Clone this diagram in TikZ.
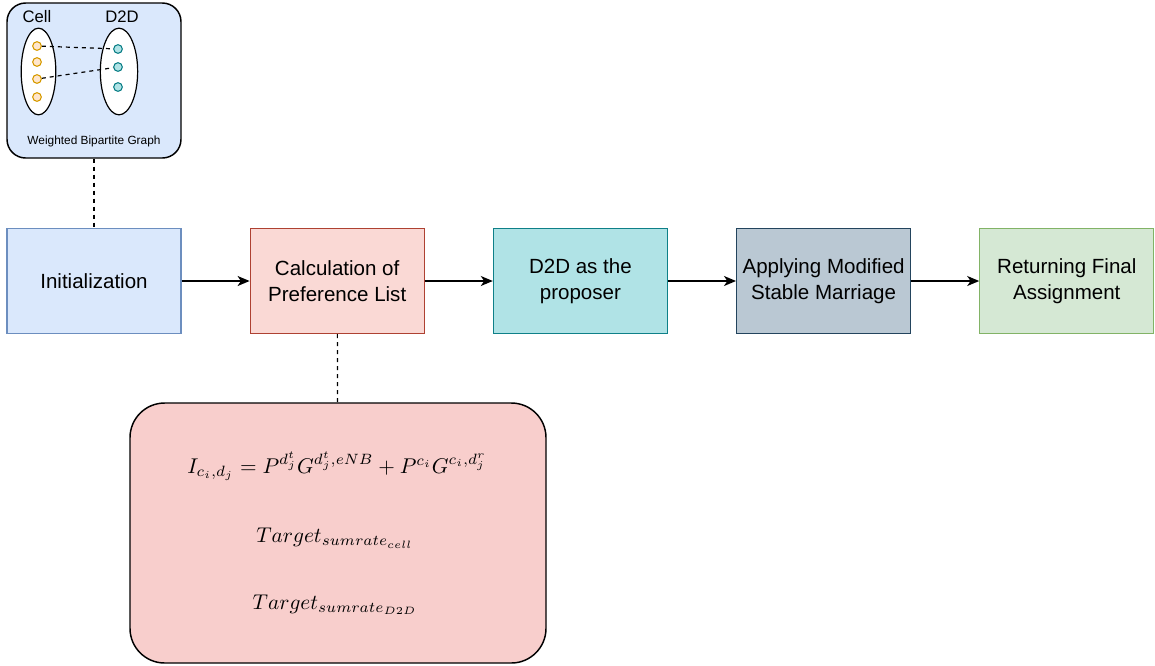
\documentclass[tikz,border=0pt]{standalone}
\usepackage{amsmath}
\usepackage{graphicx}
\usepackage{fontspec}
\setmainfont{Liberation Sans}
\usetikzlibrary{positioning,shapes.geometric,arrows.meta}

\definecolor{initFill}{HTML}{DAE8FC}
\definecolor{initLine}{HTML}{6C8EBF}
\definecolor{calcFill}{HTML}{FAD9D5}
\definecolor{calcLine}{HTML}{AE4132}
\definecolor{propFill}{HTML}{B0E3E6}
\definecolor{propLine}{HTML}{0E8088}
\definecolor{smFill}{HTML}{BAC8D3}
\definecolor{smLine}{HTML}{23445D}
\definecolor{retFill}{HTML}{D5E8D4}
\definecolor{retLine}{HTML}{82B366}
\definecolor{eqFill}{HTML}{F8CECC}
\definecolor{cellFill}{HTML}{FFE6CC}
\definecolor{cellLine}{HTML}{D79B00}

\newcommand{\bigmath}[1]{\scalebox{1.6}{$#1$}}

\begin{document}
\begin{tikzpicture}[x=0.75pt,y=-0.75pt,node distance=51pt,>={Stealth[length=9pt,width=7.5pt,inset=2.5pt]},
    stage/.style={draw, rectangle, minimum width=130.5pt, minimum height=78.75pt,
      align=center, line width=0.9pt, font=\fontsize{15.4}{19.5}\selectfont},
    cellpt/.style={draw=cellLine, fill=cellFill, circle, minimum size=6.5pt, inner sep=0pt, line width=0.8pt},
    d2dpt/.style={draw=propLine, fill=propFill, circle, minimum size=6.5pt, inner sep=0pt, line width=0.8pt}]
    \useasboundingbox (0,0) rectangle (1155,665);

    % bipartite graph
    \node (graph) [draw, rounded corners=14pt, fill=initFill, line width=1.1pt,
      minimum width=130.5pt, minimum height=116.25pt] at (94,80.5) {};
    \node (cellset) [draw, ellipse, fill=white, line width=0.9pt, minimum width=26pt, minimum height=65pt] at (38.5,71.5) {};
    \node (d2dset) [draw, ellipse, fill=white, line width=0.9pt, minimum width=28pt, minimum height=65pt] at (119,71.5) {};
    \node (celltxt) [font=\fontsize{12.5}{15}\selectfont] at (37,17) {Cell};
    \node (d2dtxt) [font=\fontsize{12.5}{15}\selectfont] at (122,17) {D2D};
    \node (graphtxt) [font=\fontsize{8.9}{11}\selectfont] at (94,141) {Weighted Bipartite Graph};
    \node (c1) [cellpt] at (37,46) {};
    \node (c2) [cellpt] at (37,62) {};
    \node (c3) [cellpt] at (37,79) {};
    \node (c4) [cellpt] at (37,97) {};
    \node (d1) [d2dpt] at (118,49) {};
    \node (d2) [d2dpt] at (118,67) {};
    \node (d3) [d2dpt] at (118,87) {};
    \draw[dashed, line width=0.9pt] (c1) -- (d1);
    \draw[dashed, line width=0.9pt] (c3) -- (d2);

    % main flow
    \node (init) [stage, fill=initFill, draw=initLine] at (94,281) {Initialization};
    \node (calc) [stage, fill=calcFill, draw=calcLine, right=of init] {Calculation of\\Preference List};
    \node (prop) [stage, fill=propFill, draw=propLine, right=of calc] {D2D as the\\proposer};
    \node (sm) [stage, fill=smFill, draw=smLine, right=of prop] {Applying Modified\\Stable Marriage};
    \node (ret) [stage, fill=retFill, draw=retLine, right=of sm] {Returning Final\\Assignment};

    \draw[->, line width=1.1pt] (init) -- (calc);
    \draw[->, line width=1.1pt] (calc) -- (prop);
    \draw[->, line width=1.1pt] (prop) -- (sm);
    \draw[->, line width=1.1pt] (sm) -- (ret);

    % interference formulas
    \node (eqbox) [draw, rounded corners=26pt, fill=eqFill, line width=1.1pt,
      minimum width=312pt, minimum height=195pt] at (338,533) {};
    \node (eqI) at (337,466) {\bigmath{I_{c_i,d_j} = P^{d_j^t}G^{d_j^t,eNB} + P^{c_i}G^{c_i,d_j^r}}};
    \node (eqcell) at (335,538) {\bigmath{Target_{sumrate_{cell}}}};
    \node (eqd2d) at (335,605) {\bigmath{Target_{sumrate_{D2D}}}};

    \draw[dashed, line width=0.9pt] (graph) -- (init);
    \draw[dashed, line width=0.9pt] (calc) -- (eqbox);
\end{tikzpicture}
\end{document}
